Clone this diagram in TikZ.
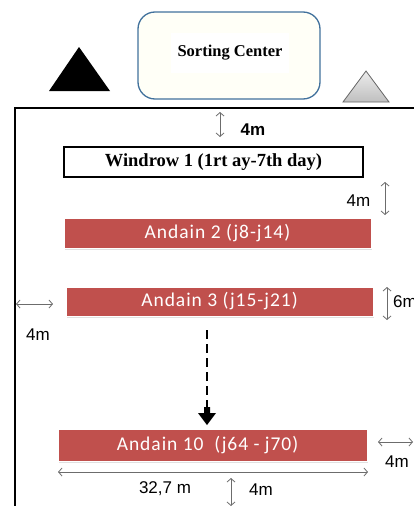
\documentclass[tikz,border=0pt]{standalone}
\usepackage{fontspec}
\setmainfont{Liberation Serif}
\newfontfamily\labelfont{Liberation Sans}
\newfontfamily\calfont[LetterSpace=5]{Carlito}
\usetikzlibrary{arrows.meta,shadows}
\definecolor{andred}{HTML}{C0504D}
\definecolor{creamfill}{HTML}{FFFFF7}
\definecolor{boxblue}{HTML}{41719C}
\begin{document}
\begin{tikzpicture}[x=1pt,y=-1pt,
 dim/.style={draw=gray!85!black, line width=0.8pt,
   {Straight Barb[length=3.5pt,width=8pt]}-{Straight Barb[length=3.5pt,width=8pt]}},
 dimlabel/.style={font=\labelfont\fontsize{17}{17}\selectfont, inner sep=0pt},
 andain/.style={rectangle, fill=andred, draw=white, line width=1pt, text=white,
   font=\calfont\fontsize{19.5}{20}\selectfont, inner sep=0pt,
   drop shadow={shadow xshift=1pt, shadow yshift=-2pt, fill=black!20, opacity=0.6}}
]
\useasboundingbox (0,0) rectangle (414,506);

% triangles
\fill[black] (79,47) -- (49,91) -- (110,91) -- cycle;
\draw[gray!80!black, line width=0.8pt, top color=gray!15, bottom color=gray!50]
  (366,71) -- (343,102) -- (389,102) -- cycle;

% sorting center
\node[draw=boxblue, line width=1.3pt, fill=creamfill, rounded corners=17pt,
  minimum width=182pt, minimum height=87pt, inner sep=0pt] (sc) at (229,55.5) {};
\node[fill=white, minimum width=118pt, minimum height=40pt, inner sep=0pt,
  font=\bfseries\fontsize{16.5}{17}\selectfont] (sctext) at (230,52.5) {Sorting Center};

% frame
\coordinate (fr) at (420,108);
\coordinate (fc) at (15,108);
\coordinate (fb) at (15,512);
\draw[line width=2.3pt] (fr) -- (fc) -- (fb);

% windrow 1
\node[draw=black, line width=2.5pt, fill=white, minimum width=299pt, minimum height=30pt,
  inner sep=0pt, font=\bfseries\fontsize{18.5}{19}\selectfont] (w1) at (213.5,162)
  {Windrow 1 (1rt ay-7th day)};

% andains
\node[andain, minimum width=307pt, minimum height=30pt] (a2) at (217.5,233) {Andain 2 (j8-j14)};
\node[andain, minimum width=307pt, minimum height=29pt] (a3) at (219.5,301.5) {Andain 3 (j15-j21)};
\node[andain, minimum width=309pt, minimum height=32pt] (a10) at (212.5,445) {\hspace*{-10pt}Andain 10~~(j64 - j70)};

% dashed progression arrow
\coordinate (ds) at (207,330);
\coordinate (de) at (207,407);
\coordinate (tip) at (207,425);
\draw[line width=2.6pt, dash pattern=on 9pt off 5pt] (ds) -- (de);
\fill[black] (tip) -- ++(-9,-12) -- ++(6,0) -- ++(0,-6) -- ++(6,0) -- ++(0,6) -- ++(6,0) -- cycle;

% dimension markers
\coordinate (t1) at (220,112); \coordinate (t2) at (220,137);
\draw[dim] (t1) -- (t2);
\node[dimlabel, font=\labelfont\bfseries\fontsize{17}{17}\selectfont] (l1) at (253,130) {4m};

\coordinate (r1) at (385,182); \coordinate (r2) at (385,215);
\draw[dim] (r1) -- (r2);
\node[dimlabel] (l2) at (358.5,201) {4m};

\coordinate (s1) at (387,287); \coordinate (s2) at (387,320);
\draw[dim] (s1) -- (s2);
\node[dimlabel, anchor=west] (l3) at (393,302) {6m};

\coordinate (h1) at (16,304); \coordinate (h2) at (53,304);
\draw[dim] (h1) -- (h2);
\node[dimlabel] (l4) at (38,335) {4m};

\coordinate (b1) at (58,472); \coordinate (b2) at (368,472);
\draw[dim] (b1) -- (b2);
\node[dimlabel] (l5) at (165,489) {32,7 m};

\coordinate (v1) at (231,478); \coordinate (v2) at (231,506);
\draw[dim] (v1) -- (v2);
\node[dimlabel] (l6) at (261,490) {4m};

\coordinate (e1) at (378,442); \coordinate (e2) at (413,442);
\draw[dim] (e1) -- (e2);
\node[dimlabel] (l7) at (397,462) {4m};
\end{tikzpicture}
\end{document}
